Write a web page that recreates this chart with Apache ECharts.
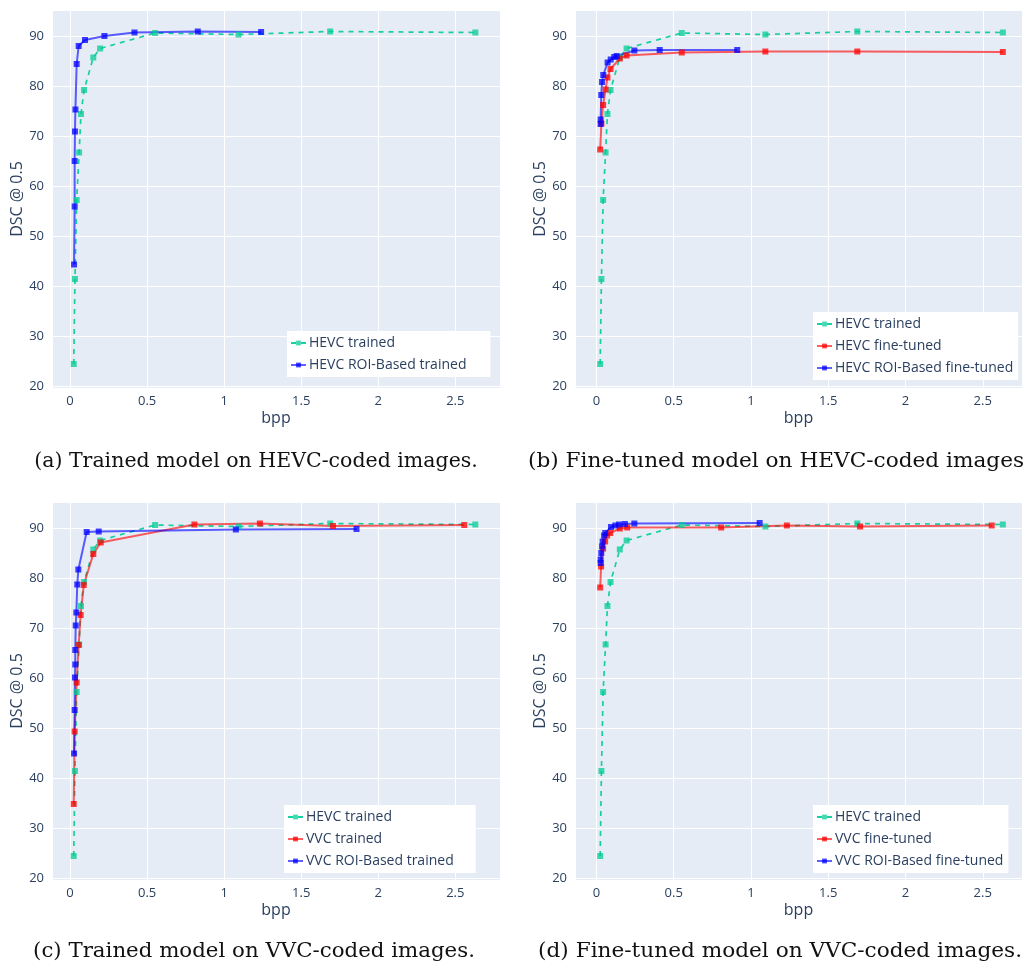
<!DOCTYPE html>
<html>
<head>
<meta charset="utf-8">
<title>DSC vs bpp</title>
<script src="https://cdn.jsdelivr.net/npm/echarts@6/dist/echarts.min.js"></script>
<style>
  html, body { margin: 0; padding: 0; background: #ffffff; }
  #chart { width: 1024px; height: 970px; }
</style>
</head>
<body>
<div id="chart"></div>
<script>
// Bit rate (bpp) of the HEVC / VVC coded test sets
const hevcBpp = [0.024, 0.032, 0.043, 0.059, 0.071, 0.091, 0.151, 0.195, 0.552, 1.093, 1.688, 2.630];
const vvcBpp  = [0.024, 0.030, 0.043, 0.056, 0.069, 0.089, 0.151, 0.199, 0.807, 1.232, 1.706, 2.558];

// DSC @ 0.5 on plain HEVC / VVC images
const hevcTrained   = [24.4, 41.4, 57.2, 66.7, 74.4, 79.2, 85.7, 87.5, 90.6, 90.3, 90.9, 90.7];
const hevcFineTuned = [67.3, 72.5, 76.2, 79.3, 81.7, 83.4, 85.5, 86.1, 86.7, 86.9, 86.9, 86.8];
const vvcTrained    = [34.8, 49.3, 59.1, 66.6, 72.6, 78.6, 84.8, 87.1, 90.7, 90.9, 90.4, 90.6];
const vvcFineTuned  = [78.1, 82.3, 85.9, 87.3, 88.5, 89.0, 89.9, 90.1, 90.1, 90.5, 90.3, 90.5];

// ROI-based coding: own bit rates and DSC
const hevcRoiTrainedBpp = [0.026, 0.030, 0.030, 0.032, 0.035, 0.043, 0.056, 0.097, 0.223, 0.418, 0.829, 1.240];
const hevcRoiTrained    = [44.3, 55.9, 65.0, 70.9, 75.3, 84.4, 88.0, 89.2, 90.0, 90.7, 90.9, 90.8];
const hevcRoiFtBpp      = [0.027, 0.027, 0.031, 0.036, 0.044, 0.072, 0.092, 0.115, 0.131, 0.245, 0.409, 0.911];
const hevcRoiFineTuned  = [72.4, 73.3, 78.2, 80.8, 82.2, 84.7, 85.3, 85.8, 86.0, 87.1, 87.2, 87.2];
const vvcRoiTrainedBpp  = [0.026, 0.030, 0.032, 0.034, 0.034, 0.037, 0.041, 0.047, 0.054, 0.108, 0.186, 1.076, 1.859];
const vvcRoiTrained     = [44.9, 53.6, 60.1, 62.7, 65.6, 70.5, 73.1, 78.7, 81.7, 89.2, 89.3, 89.7, 89.8];
const vvcRoiFtBpp       = [0.027, 0.027, 0.031, 0.036, 0.040, 0.049, 0.057, 0.094, 0.122, 0.146, 0.184, 0.245, 1.056];
const vvcRoiFineTuned   = [83.0, 83.7, 85.0, 86.3, 87.3, 88.5, 89.0, 90.2, 90.5, 90.7, 90.8, 90.9, 91.0];

const captions = [
  '(a) Trained model on HEVC-coded images.',
  '(b) Fine-tuned model on HEVC-coded images',
  '(c) Trained model on VVC-coded images.',
  '(d) Fine-tuned model on VVC-coded images.'
];

const GREEN = '#00cc96', RED = '#ff0000', BLUE = '#0000ff';
const INK = '#2a3f5f';
const UI_FONT = '"Open Sans", "Noto Sans", sans-serif';

function pairs(xs, ys) { return xs.map((x, i) => [x, ys[i]]); }

// panel frames: plot rectangles and x extents
const panels = [
  { left: 52,  top: 10,  width: 448, xMin: -0.117, xMax: 2.79 },
  { left: 575, top: 10,  width: 447, xMin: -0.139, xMax: 2.754 },
  { left: 52,  top: 502, width: 448, xMin: -0.117, xMax: 2.79 },
  { left: 575, top: 502, width: 447, xMin: -0.139, xMax: 2.754 }
];
const PLOT_H = 378;

const grid = panels.map(p => ({
  left: p.left, top: p.top, width: p.width, height: PLOT_H,
  show: true, backgroundColor: '#e5ecf6', borderWidth: 0
}));

const xAxis = panels.map((p, i) => ({
  type: 'value', gridIndex: i, min: p.xMin, max: p.xMax,
  minInterval: 0.5, maxInterval: 0.5,
  name: 'bpp', nameLocation: 'middle', nameGap: 22,
  nameTextStyle: { fontFamily: UI_FONT, fontSize: 16, color: INK },
  axisLine: { show: false }, axisTick: { show: false },
  axisLabel: { fontFamily: UI_FONT, fontSize: 13, color: INK, margin: 7,
               showMinLabel: false, showMaxLabel: false },
  splitLine: { lineStyle: { color: '#ffffff', width: 1 } }
}));

const yAxis = panels.map((p, i) => ({
  type: 'value', gridIndex: i, min: 19.6, max: 95.2,
  minInterval: 10, maxInterval: 10,
  name: 'DSC @ 0.5', nameLocation: 'middle', nameGap: i % 2 === 0 ? 24 : 21,
  nameTextStyle: { fontFamily: UI_FONT, fontSize: 16, color: INK },
  axisLine: { show: false }, axisTick: { show: false },
  axisLabel: { fontFamily: UI_FONT, fontSize: 13, color: INK, margin: 8,
               showMinLabel: false, showMaxLabel: false },
  splitLine: { lineStyle: { color: '#ffffff', width: 1 } }
}));

function curve(name, color, dashed, idx, data) {
  return {
    type: 'line', name: name, xAxisIndex: idx, yAxisIndex: idx, data: data,
    symbol: 'rect', symbolSize: 6, showAllSymbol: true, smooth: false,
    lineStyle: dashed ? { color: color, width: 1.7, type: [5, 5], opacity: 0.9 }
                      : { color: color, width: 2, opacity: 0.62 },
    itemStyle: { color: color, opacity: 0.75 },
    emphasis: { disabled: true }, z: 2
  };
}

const series = [
  curve('HEVC trained', GREEN, true, 0, pairs(hevcBpp, hevcTrained)),
  curve('HEVC ROI-Based trained', BLUE, false, 0, pairs(hevcRoiTrainedBpp, hevcRoiTrained)),

  curve('HEVC trained', GREEN, true, 1, pairs(hevcBpp, hevcTrained)),
  curve('HEVC fine-tuned', RED, false, 1, pairs(hevcBpp, hevcFineTuned)),
  curve('HEVC ROI-Based fine-tuned', BLUE, false, 1, pairs(hevcRoiFtBpp, hevcRoiFineTuned)),

  curve('HEVC trained', GREEN, true, 2, pairs(hevcBpp, hevcTrained)),
  curve('VVC trained', RED, false, 2, pairs(vvcBpp, vvcTrained)),
  curve('VVC ROI-Based trained', BLUE, false, 2, pairs(vvcRoiTrainedBpp, vvcRoiTrained)),

  curve('HEVC trained', GREEN, true, 3, pairs(hevcBpp, hevcTrained)),
  curve('VVC fine-tuned', RED, false, 3, pairs(vvcBpp, vvcFineTuned)),
  curve('VVC ROI-Based fine-tuned', BLUE, false, 3, pairs(vvcRoiFtBpp, vvcRoiFineTuned))
];

function legendBox(names, left, top, padRight) {
  return {
    data: names, orient: 'vertical', left: left, top: top,
    backgroundColor: '#ffffff', padding: [5, padRight, 5, 3],
    itemWidth: 15, itemHeight: 6, itemGap: 8,
    selectedMode: false,
    textStyle: { fontFamily: UI_FONT, fontSize: 14, color: INK, padding: [0, 0, 0, -2] }
  };
}

const legend = [
  legendBox(['HEVC trained', 'HEVC ROI-Based trained'], 287, 331, 24),
  legendBox(['HEVC trained', 'HEVC fine-tuned', 'HEVC ROI-Based fine-tuned'], 813, 312, 5),
  legendBox(['HEVC trained', 'VVC trained', 'VVC ROI-Based trained'], 284, 805, 22),
  legendBox(['HEVC trained', 'VVC fine-tuned', 'VVC ROI-Based fine-tuned'], 813, 805, 5)
];

// caption anchors: [x, y, alignment, horizontal stretch]
const captionPos = [
  [256, 462, 'center', 1.0],
  [528, 462, 'left', 1.055],
  [254, 952, 'center', 1.04],
  [1022, 952, 'right', 1.055]
];
const graphic = captions.map((t, i) => ({
  type: 'text', x: captionPos[i][0], y: captionPos[i][1], scaleX: captionPos[i][3],
  style: { text: t, fontFamily: '"DejaVu Serif", serif', fontSize: 20.5,
           fill: '#111111', textVerticalAlign: 'middle', textAlign: captionPos[i][2] }
}));

const chart = echarts.init(document.getElementById('chart'), null, { renderer: 'canvas' });
chart.setOption({
  animation: false,
  backgroundColor: '#ffffff',
  grid: grid, xAxis: xAxis, yAxis: yAxis,
  legend: legend, series: series, graphic: graphic
});
</script>
</body>
</html>
